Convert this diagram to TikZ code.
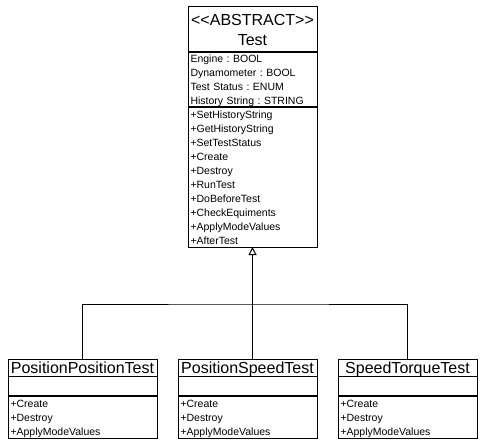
\documentclass[tikz,border=0pt]{standalone}
\usepackage{fontspec}
\setmainfont{Liberation Sans}
\frenchspacing
\usetikzlibrary{positioning,arrows.meta}
\tikzset{
  part/.style={draw, line width=1pt, inner xsep=2.5pt, inner ysep=0pt, outer sep=0pt,
    anchor=north west, align=left},
  classname/.style={part, align=center, font=\fontsize{16}{20}\selectfont},
  childname/.style={classname, text height=11.5pt, text depth=0pt},
  members/.style={part, font=\fontsize{10.5}{14}\selectfont},
  inherit/.style={-{Triangle[open, length=8pt, width=8pt]}, line width=1pt},
}
\begin{document}
\begin{tikzpicture}[x=1pt, y=-1pt, line width=1pt]
\useasboundingbox (0,0) rectangle (486,446);

\node[classname, text width=124pt, minimum height=45pt] (test) at (188,7)
  {<\kern0pt<ABSTRACT>\kern0pt>\\Test};
\node[members, text width=124pt, minimum height=54pt, text height=9.8pt, below=1pt of test] (test-attr)
  {Engine : BOOL\\Dynamometer : BOOL\\Test Status : ENUM\\History String : STRING};
\node[members, text width=124pt, minimum height=139pt, below=1pt of test-attr] (test-ops)
  {+SetHistoryString\\+GetHistoryString\\+SetTestStatus\\+Create\\+Destroy\\+RunTest\\
   +DoBeforeTest\\+CheckEquiments\\+ApplyModeValues\\+AfterTest};

\foreach \name/\x/\w/\title in {ppt/8/144/PositionPositionTest,
    pst/178/134/PositionSpeedTest, stt/338/134/SpeedTorqueTest}
{
    \node[childname, text width=\w pt, minimum height=17pt] (\name) at (\x,359) {\title};
    \node[members, text width=\w pt, minimum height=19pt, below=0pt of \name] (\name-attr) {};
    \node[members, text width=\w pt, minimum height=42pt, text height=11pt, below=1pt of \name-attr] (\name-ops)
      {+Create\\+Destroy\\+ApplyModeValues};
}

\coordinate (joint) at ([yshift=-57pt]test-ops.south);
\draw[inherit] (joint) -- (test-ops.south);
\draw (ppt.north) |- (joint) -| (stt.north);
\draw (joint) -- (joint |- pst.north);
\end{tikzpicture}
\end{document}
